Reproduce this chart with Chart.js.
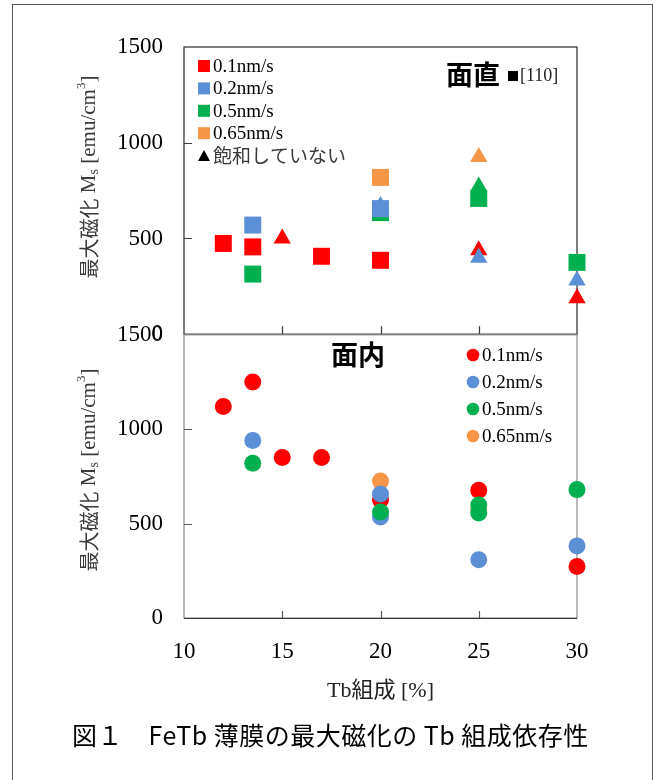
<!DOCTYPE html>
<html>
<head>
<meta charset="utf-8">
<script src="https://cdn.jsdelivr.net/npm/chart.js@4.4.1/dist/chart.umd.min.js"></script>
<style>
  body { margin: 0; background: #fff; }
  #wrap { position: relative; width: 661px; height: 780px; overflow: hidden; }
  #frame { position: absolute; left: 12px; top: 4px; width: 641px; height: 820px; border: 1px solid #595959; box-sizing: border-box; }
  canvas { position: absolute; left: 0; }
  #topChart { top: 0; }
  #bottomChart { top: 300px; }
  #caption { position: absolute; top: 716px; left: 0; width: 661px; text-align: center; white-space: pre;
    font-family: 'Noto Sans CJK JP'; font-size: 25px; letter-spacing: 0.5px; color: #000; }
</style>
</head>
<body>
<div id="wrap">
  <div id="frame"></div>
  <canvas id="topChart" width="661" height="369"></canvas>
  <canvas id="bottomChart" width="661" height="480"></canvas>
  <div id="caption">図１　FeTb 薄膜の最大磁化の Tb 組成依存性</div>
</div>
<script>
// FeTb film: max magnetization vs Tb composition (面直 / 面内)

const xTicks = [10, 15, 20, 25, 30]
const yTicks = [0, 500, 1000, 1500]
const rates = ['0.1nm/s', '0.2nm/s', '0.5nm/s', '0.65nm/s']
const colors = ['#FF0000', '#5B8FD6', '#00B050', '#F79646']

// 面直, saturated (squares)
const perpTb01 = [12, 13.5, 17, 20]
const perpMs01 = [474, 456, 407, 386]
const perpTb02 = [13.5, 20]
const perpMs02 = [570, 656]
const perpTb05 = [13.5, 20, 25, 30]
const perpMs05 = [314, 635, 709, 375]
const perpTb065 = [20]
const perpMs065 = [819]

// 面直, not saturated (triangles)
const perpNsTb01 = [15, 25, 30]
const perpNsMs01 = [500, 438, 188]
const perpNsTb02 = [20, 25, 30]
const perpNsMs02 = [670, 399, 280]
const perpNsTb05 = [25]
const perpNsMs05 = [772]
const perpNsTb065 = [25]
const perpNsMs065 = [925]

// 面内 (circles)
const inTb01 = [12, 13.5, 15, 17, 20, 25, 30]
const inMs01 = [1120, 1250, 850, 850, 625, 677, 273]
const inTb02 = [13.5, 20, 20, 25, 30]
const inMs02 = [940, 657, 535, 308, 382]
const inTb05 = [13.5, 20, 25, 25, 30]
const inMs05 = [820, 561, 598, 556, 680]
const inTb065 = [20, 25]
const inMs065 = [725, 575]

function pts(xs, ys) {
    return xs.map((x, i) => ({ x: x, y: ys[i] }))
}

function ds(xs, ys, color, style, radius, order) {
    return {
        data: pts(xs, ys),
        backgroundColor: color,
        borderColor: color,
        pointStyle: style,
        pointRadius: radius,
        pointHoverRadius: radius,
        pointBorderWidth: 0,
        order: order,
        clip: false
    }
}

const serif = "'Liberation Serif', 'Noto Sans CJK JP'"

function yTitle(ctx, cx, cy) {
    const parts = [
        { t: '最大磁化', f: "20px 'Noto Sans CJK JP'", dy: 0 },
        { t: ' M', f: "21px 'Liberation Serif'", dy: 0 },
        { t: 's', f: "14px 'Liberation Serif'", dy: 5 },
        { t: ' [emu/cm', f: "21px 'Liberation Serif'", dy: 0 },
        { t: '3', f: "13px 'Liberation Serif'", dy: -7 },
        { t: ']', f: "21px 'Liberation Serif'", dy: 0 }
    ]
    let total = 0
    parts.forEach(p => { ctx.font = p.f; p.w = ctx.measureText(p.t).width; total += p.w })
    ctx.save()
    ctx.translate(cx, cy)
    ctx.rotate(-Math.PI / 2)
    ctx.fillStyle = '#3a3a3a'
    ctx.textBaseline = 'middle'
    ctx.textAlign = 'left'
    let x = -total / 2
    parts.forEach(p => { ctx.font = p.f; ctx.fillText(p.t, x, p.dy); x += p.w })
    ctx.restore()
}

function innerTicks(chart, xVals, yVals, xLen, yLen, color) {
    const ctx = chart.ctx
    const a = chart.chartArea
    const sx = chart.scales.x
    const sy = chart.scales.y
    ctx.strokeStyle = color
    ctx.lineWidth = 1.2
    ctx.beginPath()
    xVals.forEach(v => {
        const px = Math.round(sx.getPixelForValue(v)) + 0.5
        ctx.moveTo(px, a.bottom)
        ctx.lineTo(px, a.bottom - xLen)
    })
    yVals.forEach(v => {
        const py = Math.round(sy.getPixelForValue(v)) + 0.5
        ctx.moveTo(a.left, py)
        ctx.lineTo(a.left + yLen, py)
    })
    ctx.stroke()
}

function xScale(showLabels) {
    return {
        type: 'linear',
        min: 10,
        max: 30,
        afterBuildTicks: s => { s.ticks = xTicks.map(v => ({ value: v })) },
        ticks: {
            display: showLabels,
            autoSkip: false,
            maxRotation: 0,
            color: '#000',
            padding: 20,
            font: { family: serif, size: 23 },
            callback: v => String(v)
        },
        grid: { display: false, drawTicks: false },
        border: { display: false },
        title: {
            display: showLabels,
            text: 'Tb組成 [%]',
            color: '#222',
            font: { family: serif, size: 22 },
            padding: { top: 0, bottom: 4 }
        },
        afterFit: s => { s.height = showLabels ? 90 : 0 }
    }
}

function yScale() {
    return {
        type: 'linear',
        min: 0,
        max: 1500,
        afterBuildTicks: s => { s.ticks = yTicks.map(v => ({ value: v })) },
        ticks: {
            color: '#000',
            padding: 21,
            font: { family: serif, size: 23 },
            callback: v => String(v)
        },
        grid: { display: false, drawTicks: false },
        border: { display: false },
        afterFit: s => { s.width = 184 }
    }
}

// top panel: 面直
const topDecor = {
    id: 'topDecor',
    beforeDatasetsDraw(chart) {
        const ctx = chart.ctx
        const a = chart.chartArea
        ctx.save()
        ctx.strokeStyle = '#3a3a3a'
        ctx.lineWidth = 1.3
        ctx.strokeRect(a.left, a.top, a.right - a.left, a.bottom - a.top)
        innerTicks(chart, [15, 20, 25], [500, 1000], 8, 8, '#3a3a3a')
        ctx.restore()
    },
    afterDraw(chart) {
        const ctx = chart.ctx
        const a = chart.chartArea
        ctx.save()
        yTitle(ctx, 89, 177)
        ctx.textBaseline = 'middle'
        ctx.textAlign = 'left'
        rates.forEach((r, i) => {
            const cy = 66 + i * 22.4
            ctx.fillStyle = colors[i]
            ctx.fillRect(198, cy - 6, 12, 12)
            ctx.fillStyle = '#000'
            ctx.font = "19px 'Liberation Serif'"
            ctx.fillText(r, 213, cy + 1)
        })
        // triangle = not saturated
        ctx.fillStyle = '#000'
        ctx.beginPath()
        ctx.moveTo(204, 150)
        ctx.lineTo(210, 161)
        ctx.lineTo(198, 161)
        ctx.closePath()
        ctx.fill()
        ctx.fillStyle = '#3a3a3a'
        ctx.font = "19px 'Noto Sans CJK JP'"
        ctx.fillText('飽和していない', 213, 156)
        // panel label
        ctx.fillStyle = '#000'
        ctx.font = "bold 27px 'Noto Sans CJK JP'"
        ctx.fillText('面直', 446, 75)
        ctx.fillRect(508, 71, 10, 10)
        ctx.font = "18px 'Liberation Serif'"
        ctx.fillStyle = '#222'
        ctx.fillText('[110]', 520, 76)
        ctx.restore()
    }
}

// bottom panel: 面内
const off = 300
const bottomDecor = {
    id: 'bottomDecor',
    beforeDatasetsDraw(chart) {
        const ctx = chart.ctx
        const a = chart.chartArea
        ctx.save()
        ctx.strokeStyle = '#8a8a8a'
        ctx.lineWidth = 1.2
        ctx.strokeRect(a.left, a.top, a.right - a.left, a.bottom - a.top)
        ctx.strokeStyle = '#3a3a3a'
        ctx.beginPath()
        ctx.moveTo(a.left, a.bottom + 0.5)
        ctx.lineTo(a.right, a.bottom + 0.5)
        ctx.stroke()
        innerTicks(chart, [15, 20, 25], [500, 1000], 7, 8, '#5a5a5a')
        ctx.restore()
    },
    afterDraw(chart) {
        const ctx = chart.ctx
        ctx.save()
        yTitle(ctx, 89, 470 - off)
        ctx.textBaseline = 'middle'
        ctx.textAlign = 'left'
        rates.forEach((r, i) => {
            const cy = 355 + i * 27 - off
            ctx.fillStyle = colors[i]
            ctx.beginPath()
            ctx.arc(473, cy, 6.3, 0, Math.PI * 2)
            ctx.fill()
            ctx.fillStyle = '#000'
            ctx.font = "19px 'Liberation Serif'"
            ctx.fillText(r, 482, cy + 1)
        })
        ctx.fillStyle = '#000'
        ctx.font = "bold 27px 'Noto Sans CJK JP'"
        ctx.fillText('面内', 331, 355 - off)
        ctx.restore()
    }
}

new Chart(document.getElementById('topChart'), {
    type: 'scatter',
    data: {
        datasets: [
            ds(perpTb02, perpMs02, colors[1], 'rect', 12, 1),
            ds(perpTb05, perpMs05, colors[2], 'rect', 12, 2),
            ds(perpTb01, perpMs01, colors[0], 'rect', 12, 3),
            ds(perpTb065, perpMs065, colors[3], 'rect', 12, 4),
            ds(perpNsTb02, perpNsMs02, colors[1], 'triangle', 10, 5),
            ds(perpNsTb01, perpNsMs01, colors[0], 'triangle', 10, 6),
            ds(perpNsTb05, perpNsMs05, colors[2], 'triangle', 10, 7),
            ds(perpNsTb065, perpNsMs065, colors[3], 'triangle', 10, 8)
        ]
    },
    options: {
        responsive: false,
        animation: false,
        layout: { padding: { top: 47, right: 84, bottom: 11, left: 0 } },
        scales: { x: xScale(false), y: yScale() },
        plugins: { legend: { display: false }, tooltip: { enabled: false } }
    },
    plugins: [topDecor]
})

new Chart(document.getElementById('bottomChart'), {
    type: 'scatter',
    data: {
        datasets: [
            ds(inTb05, inMs05, colors[2], 'circle', 8.5, 1),
            ds(inTb02, inMs02, colors[1], 'circle', 8.5, 2),
            ds(inTb065, inMs065, colors[3], 'circle', 8.5, 3),
            ds(inTb01, inMs01, colors[0], 'circle', 8.5, 4)
        ]
    },
    options: {
        responsive: false,
        animation: false,
        layout: { padding: { top: 34, right: 84, bottom: 72, left: 0 } },
        scales: { x: xScale(true), y: yScale() },
        plugins: { legend: { display: false }, tooltip: { enabled: false } }
    },
    plugins: [bottomDecor]
})
</script>
</body>
</html>
